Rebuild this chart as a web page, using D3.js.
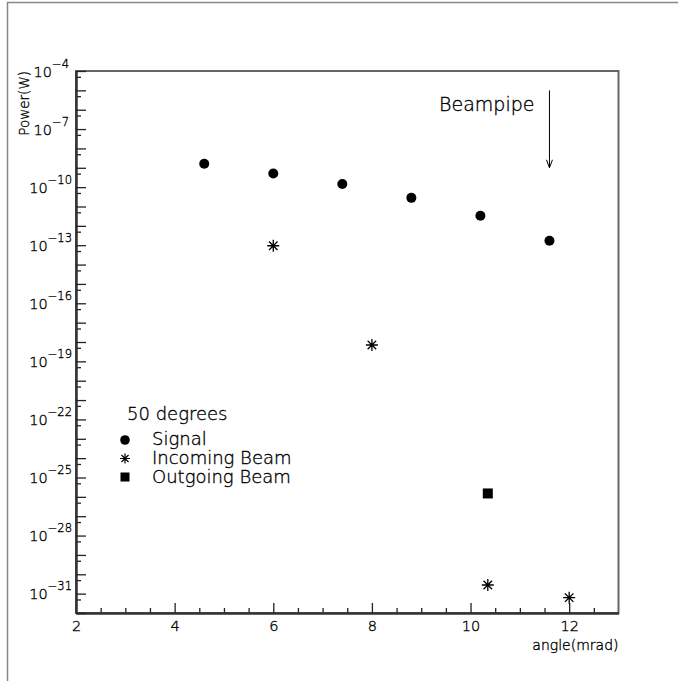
<!DOCTYPE html>
<html>
<head>
<meta charset="utf-8">
<script src="https://cdn.jsdelivr.net/npm/d3@7"></script>
<style>
  body { margin: 0; background: #fff; }
  text { font-family: 'DejaVu Sans', sans-serif; font-weight: 200; fill: #000; stroke: #000; stroke-width: 0.35px; }
</style>
</head>
<body>
<script>
// values
const signalX = [4.6, 6, 7.4, 8.8, 10.2, 11.6];
const signalY = [1.6e-9, 5.1e-10, 1.45e-10, 2.8e-11, 3.3e-12, 1.7e-13];
const incomingX = [6, 8, 10.35, 12];
const incomingY = [9.4e-14, 7e-19, 2.8e-31, 6.2e-32];
const outgoingX = [10.35];
const outgoingY = [1.5e-26];

const xTicks = [2, 4, 6, 8, 10, 12];
const yLabelExps = [-4, -7, -10, -13, -16, -19, -22, -25, -28, -31];
const legendItems = ['Signal', 'Incoming Beam', 'Outgoing Beam'];
const legendTitle = '50 degrees';
const beampipe = { x: 11.6, from: 1e-5, to: 1e-9, label: 'Beampipe' };

const width = 678, height = 681;
const plot = { left: 76, right: 618.5, top: 71, bottom: 613 };

const svg = d3.select('body')
  .append('svg')
  .attr('width', width)
  .attr('height', height);

// outer page frame (only top and left fall inside the window)
svg.append('rect')
  .attr('x', 7.5).attr('y', 2.5)
  .attr('width', 700).attr('height', 700)
  .attr('fill', 'none')
  .attr('stroke', '#888')
  .attr('stroke-width', 1.5);

const x = d3.scaleLinear().domain([2, 13]).range([plot.left, plot.right]);
const y = d3.scaleLog().domain([1e-32, 1e-4]).range([plot.bottom, plot.top]);

// plot frame
svg.append('rect')
  .attr('x', plot.left).attr('y', plot.top)
  .attr('width', plot.right - plot.left)
  .attr('height', plot.bottom - plot.top)
  .attr('fill', 'none')
  .attr('stroke', '#666')
  .attr('stroke-width', 2);

const minorX = d3.range(2.5, 13, 0.5).filter(v => v % 2 !== 0);
const decades = d3.range(-4, -33, -1).map(e => Math.pow(10, e));
const halves = d3.range(-4, -32, -1).map(e => 5 * Math.pow(10, e - 1));

function styleAxis(g) {
  g.select('.domain').attr('stroke', '#333').attr('stroke-width', 2);
  g.selectAll('.tick line').attr('stroke', '#222').attr('stroke-width', 1.3);
}

// x axis
svg.append('g')
  .attr('transform', `translate(0, ${plot.bottom})`)
  .call(d3.axisBottom(x).tickValues(minorX).tickSize(-5).tickSizeOuter(0).tickFormat(''))
  .call(styleAxis);

const xAxis = svg.append('g')
  .attr('transform', `translate(0, ${plot.bottom})`)
  .call(d3.axisBottom(x).tickValues(xTicks).tickSize(-10).tickSizeOuter(0).tickPadding(8).tickFormat(d3.format('d')))
  .call(styleAxis);
xAxis.attr('font-family', null).attr('font-size', null);
xAxis.selectAll('.tick text')
  .attr('fill', '#000')
  .attr('font-size', 14.5);

// y axis
svg.append('g')
  .attr('transform', `translate(${plot.left}, 0)`)
  .call(d3.axisLeft(y).tickValues(halves).tickSize(-5).tickSizeOuter(0).tickFormat(''))
  .call(styleAxis);

svg.append('g')
  .attr('transform', `translate(${plot.left}, 0)`)
  .call(d3.axisLeft(y).tickValues(decades).tickSize(-10).tickSizeOuter(0).tickFormat(''))
  .call(styleAxis);

const yLab = svg.append('g')
  .selectAll('text')
  .data(yLabelExps)
  .enter()
  .append('text')
  .attr('x', d => plot.left - (d > -10 ? 7 : 4))
  .attr('y', d => y(Math.pow(10, d)) + 5.5)
  .attr('text-anchor', 'end')
  .attr('font-size', 14.5);
yLab.append('tspan').text('10');
yLab.append('tspan')
  .attr('dy', -9)
  .attr('font-size', 11.5)
  .text(d => '\u2212' + Math.abs(d));

// axis titles
svg.append('text')
  .attr('transform', `translate(29, ${plot.top}) rotate(-90)`)
  .attr('text-anchor', 'end')
  .attr('font-size', 13.5)
  .text('Power(W)');

svg.append('text')
  .attr('x', plot.right)
  .attr('y', 650)
  .attr('text-anchor', 'end')
  .attr('font-size', 14)
  .text('angle(mrad)');

// symbols
const asterisk = (s) => {
  const r = s / 2, d = r * Math.SQRT1_2;
  return `M${-r},0L${r},0M0,${-r}L0,${r}M${-d},${-d}L${d},${d}M${-d},${d}L${d},${-d}`;
};

const signal = signalX.map((v, i) => ({ x: v, y: signalY[i] }));
const incoming = incomingX.map((v, i) => ({ x: v, y: incomingY[i] }));
const outgoing = outgoingX.map((v, i) => ({ x: v, y: outgoingY[i] }));

svg.append('g')
  .selectAll('circle')
  .data(signal)
  .enter()
  .append('circle')
  .attr('cx', d => x(d.x))
  .attr('cy', d => y(d.y))
  .attr('r', 5)
  .attr('fill', '#000');

svg.append('g')
  .selectAll('path')
  .data(incoming)
  .enter()
  .append('path')
  .attr('transform', d => `translate(${x(d.x)}, ${y(d.y)})`)
  .attr('d', asterisk(12))
  .attr('stroke', '#000')
  .attr('stroke-width', 1.3)
  .attr('fill', 'none');

svg.append('g')
  .selectAll('rect')
  .data(outgoing)
  .enter()
  .append('rect')
  .attr('x', d => x(d.x) - 5)
  .attr('y', d => y(d.y) - 5)
  .attr('width', 10)
  .attr('height', 10)
  .attr('fill', '#000');

// beampipe arrow
const ax = x(beampipe.x), ay1 = y(beampipe.from), ay2 = y(beampipe.to);
svg.append('line')
  .attr('x1', ax).attr('x2', ax)
  .attr('y1', ay1).attr('y2', ay2)
  .attr('stroke', '#000')
  .attr('stroke-width', 1);
svg.append('path')
  .attr('d', `M${ax - 3},${ay2 - 8}L${ax},${ay2}L${ax + 3},${ay2 - 8}`)
  .attr('stroke', '#000')
  .attr('stroke-width', 1)
  .attr('fill', 'none');
svg.append('text')
  .attr('x', ax - 15)
  .attr('y', y(1e-6) + 1)
  .attr('text-anchor', 'end')
  .attr('font-size', 19)
  .text(beampipe.label);

// legend
const legend = svg.append('g').attr('transform', 'translate(125, 420)');
legend.append('text')
  .attr('x', 2)
  .attr('y', 0)
  .attr('font-size', 18)
  .text(legendTitle);

const rowY = i => 25 + i * 19;
legend.selectAll('.lab')
  .data(legendItems)
  .enter()
  .append('text')
  .attr('class', 'lab')
  .attr('x', 27)
  .attr('y', (d, i) => rowY(i))
  .attr('font-size', 18)
  .text(d => d);

legend.append('circle')
  .attr('cx', 0).attr('cy', rowY(0) - 5)
  .attr('r', 4.8).attr('fill', '#000');
legend.append('path')
  .attr('transform', `translate(0, ${rowY(1) - 5.5})`)
  .attr('d', asterisk(10))
  .attr('stroke', '#000')
  .attr('stroke-width', 1.2)
  .attr('fill', 'none');
legend.append('rect')
  .attr('x', -4.5).attr('y', rowY(2) - 10.5)
  .attr('width', 9).attr('height', 9)
  .attr('fill', '#000');
</script>
</body>
</html>
